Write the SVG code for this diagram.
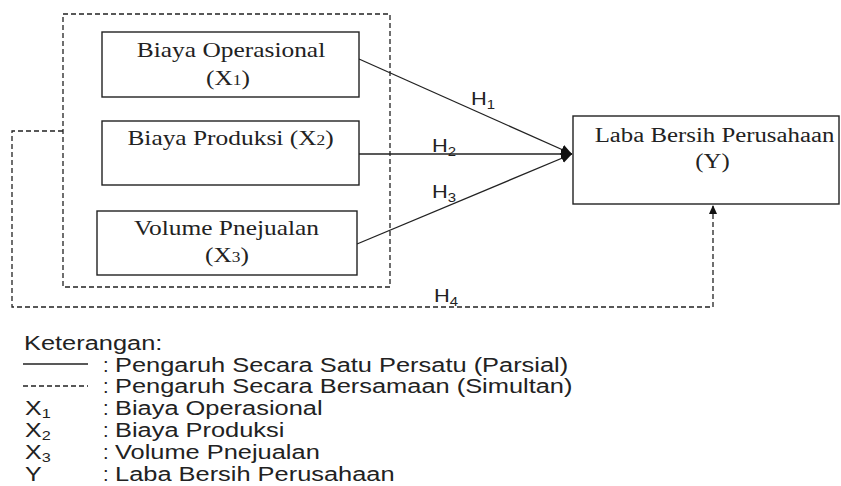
<svg xmlns="http://www.w3.org/2000/svg" width="841" height="486" viewBox="0 0 841 486">
<style>
.box{fill:#fff;stroke:#222;stroke-width:1.4}
.dash{fill:none;stroke:#222;stroke-width:1.3;stroke-dasharray:5 3}
.solid{fill:none;stroke:#222;stroke-width:1.3}
.tn{font-family:"Liberation Serif","Times New Roman",serif;font-size:20.5px;fill:#222;text-anchor:middle}
.ar{font-family:"Liberation Sans",Arial,sans-serif;font-size:20px;fill:#222}
.h{font-family:"Liberation Sans",Arial,sans-serif;font-size:19px;fill:#222}
.sub{font-size:13px}
.tsub{font-size:14px}
</style>
<defs>
<marker id="ah" markerUnits="userSpaceOnUse" markerWidth="12" markerHeight="10" refX="11" refY="5" orient="auto">
<path d="M0,0 L11,5 L0,10 Z" fill="#111"/>
</marker>
<marker id="ahs" markerUnits="userSpaceOnUse" markerWidth="10" markerHeight="8" refX="9" refY="4" orient="auto">
<path d="M0,0 L9,4 L0,8 Z" fill="#111"/>
</marker>
</defs>
<rect x="0" y="0" width="841" height="486" fill="#fff"/>

<g id="group-x">
<rect class="dash" x="63" y="14" width="327" height="273"/>
</g>

<g id="connectors">
<line class="solid" x1="359" y1="59" x2="572" y2="154" marker-end="url(#ah)"/>
<line class="solid" x1="359" y1="154" x2="572" y2="154" marker-end="url(#ah)"/>
<line class="solid" x1="357" y1="244" x2="572" y2="154" marker-end="url(#ah)"/>
<polyline class="dash" points="63,131 12,131 12,307 713,307 713,205" marker-end="url(#ahs)"/>
<text class="h" transform="translate(471,105) scale(1.15,1)">H<tspan class="sub" dy="4">1</tspan></text>
<text class="h" transform="translate(432,152) scale(1.15,1)">H<tspan class="sub" dy="4">2</tspan></text>
<text class="h" transform="translate(432,198) scale(1.15,1)">H<tspan class="sub" dy="4">3</tspan></text>
<text class="h" transform="translate(434,302) scale(1.15,1)">H<tspan class="sub" dy="4">4</tspan></text>
</g>

<g id="x1">
<rect class="box" x="102" y="32" width="257" height="65"/>
<text class="tn" transform="translate(231,57) scale(1.24,1)">Biaya Operasional</text>
<text class="tn" transform="translate(228,85) scale(1.24,1)">(X<tspan class="tsub">1</tspan>)</text>
</g>

<g id="x2">
<rect class="box" x="102" y="121" width="257" height="64"/>
<text class="tn" transform="translate(230.5,145) scale(1.24,1)">Biaya Produksi (X<tspan class="tsub">2</tspan>)</text>
</g>

<g id="x3">
<rect class="box" x="97" y="211" width="260" height="64"/>
<text class="tn" transform="translate(226.5,235) scale(1.24,1)">Volume Pnejualan</text>
<text class="tn" transform="translate(227,262) scale(1.24,1)">(X<tspan class="tsub">3</tspan>)</text>
</g>

<g id="y">
<rect class="box" x="573" y="116" width="266" height="88"/>
<text class="tn" transform="translate(714.5,142) scale(1.21,1)">Laba Bersih Perusahaan</text>
<text class="tn" transform="translate(712.5,168) scale(1.21,1)">(Y)</text>
</g>

<g id="legend">
<text class="ar" transform="translate(24,350) scale(1.27,1)">Keterangan:</text>
<line class="solid" x1="23" y1="364" x2="88" y2="364"/>
<line class="dash" x1="23" y1="386" x2="88" y2="386"/>
<text class="ar" transform="translate(25,415) scale(1.25,1)">X<tspan class="sub" dy="3">1</tspan></text>
<text class="ar" transform="translate(25,437) scale(1.25,1)">X<tspan class="sub" dy="3">2</tspan></text>
<text class="ar" transform="translate(25,459) scale(1.25,1)">X<tspan class="sub" dy="3">3</tspan></text>
<text class="ar" transform="translate(25,481) scale(1.25,1)">Y</text>
<text class="ar" x="103" y="372">:</text>
<text class="ar" x="103" y="393">:</text>
<text class="ar" x="103" y="415">:</text>
<text class="ar" x="103" y="437">:</text>
<text class="ar" x="103" y="459">:</text>
<text class="ar" x="103" y="481">:</text>
<text class="ar" transform="translate(115,372) scale(1.27,1)">Pengaruh Secara Satu Persatu (Parsial)</text>
<text class="ar" transform="translate(115,393) scale(1.27,1)">Pengaruh Secara Bersamaan (Simultan)</text>
<text class="ar" transform="translate(115,415) scale(1.27,1)">Biaya Operasional</text>
<text class="ar" transform="translate(115,437) scale(1.27,1)">Biaya Produksi</text>
<text class="ar" transform="translate(115,459) scale(1.27,1)">Volume Pnejualan</text>
<text class="ar" transform="translate(115,481) scale(1.27,1)">Laba Bersih Perusahaan</text>
</g>
</svg>
